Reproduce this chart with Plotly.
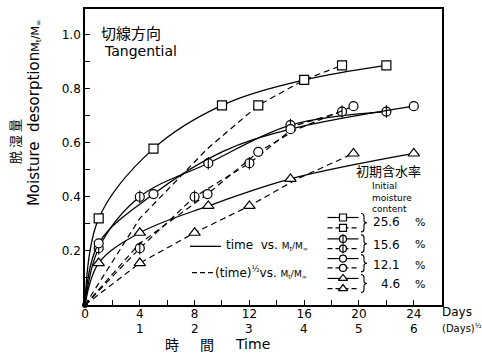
import numpy as np
import plotly.graph_objects as go

# ---------------- data ----------------
# time in days, value = Mt/M_inf
sq_days = [1, 5, 10, 16, 22]          # initial moisture 25.6 %
sq_vals = [0.32, 0.578, 0.738, 0.832, 0.886]
sq_solid_shown = [True, True, True, True, True]
sq_dash_shown = [False, False, True, False, True]

cb_days = [1, 4, 9, 15, 22]           # initial moisture 15.6 %
cb_vals = [0.21, 0.40, 0.524, 0.665, 0.715]
cb_solid_shown = [True, True, True, True, True]
cb_dash_shown = [True, True, True, False, True]

ci_days = [1, 5, 10, 15, 24]          # initial moisture 12.1 %
ci_vals = [0.228, 0.41, 0.566, 0.65, 0.735]
ci_solid_shown = [True, True, False, True, True]
ci_dash_shown = [False, True, True, False, True]

tr_days = [1, 4, 9, 15, 24]           # initial moisture 4.6 %
tr_vals = [0.155, 0.267, 0.366, 0.466, 0.56]
tr_solid_shown = [True, True, True, True, True]
tr_dash_shown = [True, True, True, False, True]

moisture_labels = ["25.6", "15.6", "12.1", "4.6"]
x_label_days = [0, 4, 8, 12, 16, 20, 24]
sqrt_labels = [1, 2, 3, 4, 5, 6]      # (days)^1/2 scale: 1 <-> 4 on the day axis
y_label_vals = [0.2, 0.4, 0.6, 0.8, 1.0]

FONT = "DejaVu Sans"
CJK = "Noto Sans CJK JP"

# ---------------- figure geometry ----------------
W, H = 482, 355
L, R, T, B = 85, 40, 7.3, 50
PX0, PX1 = L, W - R           # plot area in page pixels
PY0, PY1 = T, H - B


def px(x):
    return (x - PX0) / (PX1 - PX0)


def py(y):
    return (PY1 - y) / (PY1 - PY0)


fig = go.Figure()

LW = 1.3
DASH = "6px,4px"


def add_markers(xs, ys, show, symbol, bar, xa="x", ya="y", size=9):
    mx = [x for x, s in zip(xs, show) if s]
    my = [y for y, s in zip(ys, show) if s]
    fig.add_trace(go.Scatter(
        x=mx, y=my, mode="markers", xaxis=xa, yaxis=ya, cliponaxis=False,
        marker=dict(symbol=symbol, size=size if symbol != "triangle-up" else size + 1,
                    color="white", line=dict(color="black", width=1.2))))
    if bar:
        fig.add_trace(go.Scatter(
            x=mx, y=my, mode="markers", xaxis=xa, yaxis=ya, cliponaxis=False,
            marker=dict(symbol="line-ns", size=size,
                        line=dict(color="black", width=1.1))))


def add_series(days, vals, symbol, solid_show, dash_show, bar=False):
    xs = [0] + days
    ys = [0] + vals
    fig.add_trace(go.Scatter(
        x=xs, y=ys, mode="lines",
        line=dict(color="black", width=LW, shape="spline", smoothing=1.0)))
    sx = [4 * np.sqrt(d) for d in days]
    fig.add_trace(go.Scatter(
        x=[0] + sx, y=ys, mode="lines",
        line=dict(color="black", width=1.2, dash=DASH)))
    add_markers(days, vals, solid_show, symbol, bar)
    add_markers(sx, vals, dash_show, symbol, bar)


add_series(sq_days, sq_vals, "square", sq_solid_shown, sq_dash_shown)
add_series(cb_days, cb_vals, "circle", cb_solid_shown, cb_dash_shown, bar=True)
add_series(ci_days, ci_vals, "circle", ci_solid_shown, ci_dash_shown)
add_series(tr_days, tr_vals, "triangle-up", tr_solid_shown, tr_dash_shown)

# origin dot
fig.add_trace(go.Scatter(x=[0], y=[0], mode="markers", cliponaxis=False,
                         marker=dict(color="black", size=6)))

# ---------------- legend (drawn on a pixel-coordinate overlay axis) ----------------
leg_rows = [217, 227.5, 238.5, 248.3, 258.3, 267.7, 278.3, 288.5]
leg_syms = ["square", "square", "circle", "circle", "circle", "circle",
            "triangle-up", "triangle-up"]
leg_bar = [False, False, True, True, False, False, False, False]
for i, (yy, sym, bar) in enumerate(zip(leg_rows, leg_syms, leg_bar)):
    fig.add_trace(go.Scatter(
        x=[327.5, 358.5], y=[yy, yy], mode="lines", xaxis="x2", yaxis="y2",
        line=dict(color="black", width=1.2, dash=None if i % 2 == 0 else "5px,3px")))
    add_markers([343], [yy], [True], sym, bar, xa="x2", ya="y2", size=7)

label_y = [222, 244.3, 265, 284.3]
shapes = []
for k, lab in enumerate(moisture_labels):
    a = leg_rows[2 * k] - 4
    b = leg_rows[2 * k + 1] + 4
    m = (a + b) / 2
    path = (f"M 361,{a} Q 364,{a} 364,{a+3} L 364,{m-2.5} Q 364,{m} 367,{m} "
            f"Q 364,{m} 364,{m+2.5} L 364,{b-3} Q 364,{b} 361,{b}")
    shapes.append(dict(type="path", path=path, xref="x2", yref="y2",
                       line=dict(color="black", width=1.1)))

# left-side legend lines
fig.add_trace(go.Scatter(x=[190, 221], y=[246, 246], mode="lines", xaxis="x2", yaxis="y2",
                         line=dict(color="black", width=1.3)))
fig.add_trace(go.Scatter(x=[192, 213], y=[272.5, 272.5], mode="lines", xaxis="x2", yaxis="y2",
                         line=dict(color="black", width=1.2, dash="5px,3px")))

ann = []


def text(x, y, s, size=12, font=FONT, xanchor="center", yanchor="middle", angle=0):
    ann.append(dict(x=px(x), y=py(y), xref="paper", yref="paper", text=s,
                    showarrow=False, xanchor=xanchor, yanchor=yanchor,
                    textangle=angle, font=dict(family=font, size=size, color="black")))


for k, lab in enumerate(moisture_labels):
    text(402, label_y[k], lab, 12, xanchor="right")
    text(420, label_y[k], "%", 11)

text(388, 170, "初期含水率", 13, CJK)
ann.append(dict(x=px(370), y=py(197), xref="paper", yref="paper",
                text="Initial<br>moisture<br>content", align="left",
                showarrow=False, xanchor="left", yanchor="middle",
                font=dict(family=FONT, size=9, color="black")))

small = "<span style='font-size:9px'>M<sub>t</sub>/M<sub>∞</sub></span>"
text(224, 245, "time  vs. " + small, 12, xanchor="left")
text(213, 272, "(time)<sup>½</sup>vs. " + small, 12, xanchor="left")

text(131, 31, "切線方向", 15, CJK)
text(140, 50, "Tangential", 14)

# y-axis titles
text(15, 141, "脱 湿 量", 13, CJK, angle=-90)
text(34, 112, "Moisture  desorption" +
     "<span style='font-size:11px'>M<sub>t</sub>/M<sub>∞</sub></span>", 15, angle=-90)

# second x row: (days)^1/2
for v in sqrt_labels:
    ann.append(dict(x=4 * v, y=py(329), xref="x", yref="paper", text=str(v),
                    showarrow=False, yanchor="middle",
                    font=dict(family=FONT, size=12, color="black")))
text(457, 312, "Days", 12)
text(462, 328, "(Days)<sup>½</sup>", 10)

text(172, 344, "時", 14, CJK)
text(207, 344, "間", 14, CJK)
text(252, 344, "Time", 14)

fig.update_layout(
    width=W, height=H,
    margin=dict(l=L, r=R, t=T, b=B, pad=0),
    paper_bgcolor="white", plot_bgcolor="white",
    showlegend=False,
    shapes=shapes,
    annotations=ann,
    xaxis=dict(range=[0, 26.06], tickmode="array", tickvals=x_label_days,
               ticktext=[str(d) for d in x_label_days],
               ticks="inside", ticklen=5, tickwidth=1.2, tickcolor="black",
               minor=dict(ticks="inside", ticklen=5, tickwidth=1.2, tickcolor="black",
                          tick0=0, dtick=2, showgrid=False),
               ticklabelstandoff=-3,
               showline=True, linecolor="black", linewidth=1.6, mirror=True,
               showgrid=False, zeroline=False,
               tickfont=dict(family=FONT, size=12, color="black")),
    yaxis=dict(range=[0, 1.094], tickmode="array", tickvals=y_label_vals,
               ticktext=[f"{v:.1f}" for v in y_label_vals],
               ticks="inside", ticklen=5, tickwidth=1.2, tickcolor="black",
               minor=dict(ticks="inside", ticklen=5, tickwidth=1.2, tickcolor="black",
                          tick0=0, dtick=0.1, showgrid=False),
               showline=True, linecolor="black", linewidth=1.6, mirror=True,
               showgrid=False, zeroline=False,
               tickfont=dict(family=FONT, size=12, color="black")),
    xaxis2=dict(overlaying="x", range=[PX0, PX1], visible=False, anchor="y2"),
    yaxis2=dict(overlaying="y", range=[PY1, PY0], visible=False, anchor="x2"),
)

fig.write_html("out.html")
